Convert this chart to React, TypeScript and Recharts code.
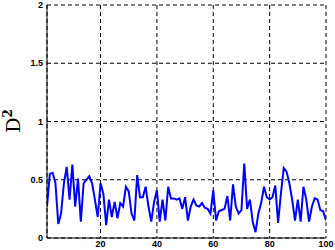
import { LineChart, Line, XAxis, YAxis, CartesianGrid } from "recharts"

// D^2 per step
const D2_VALUES = [
  0.27, 0.55, 0.56, 0.47, 0.12, 0.21, 0.47, 0.61, 0.33, 0.63,
  0.27, 0.51, 0.14, 0.47, 0.5, 0.53, 0.47, 0.33, 0.18, 0.47,
  0.38, 0.11, 0.33, 0.18, 0.31, 0.17, 0.3, 0.27, 0.44, 0.4,
  0.21, 0.15, 0.54, 0.35, 0.35, 0.44, 0.27, 0.14, 0.31, 0.41,
  0.14, 0.33, 0.15, 0.44, 0.34, 0.34, 0.33, 0.34, 0.25, 0.35,
  0.15, 0.27, 0.33, 0.28, 0.27, 0.3, 0.26, 0.25, 0.21, 0.41,
  0.15, 0.23, 0.24, 0.25, 0.36, 0.15, 0.46, 0.27, 0.21, 0.24,
  0.64, 0.25, 0.33, 0.14, 0.05, 0.21, 0.3, 0.44, 0.35, 0.33,
  0.35, 0.45, 0.13, 0.38, 0.6, 0.57, 0.47, 0.33, 0.15, 0.33,
  0.14, 0.44, 0.33, 0.14, 0.27, 0.34, 0.33, 0.24, 0.23, 0.15,
]

const X_TICKS = [20, 40, 60, 80, 100]
const Y_TICKS = [0, 0.5, 1, 1.5, 2]

const tickStyle = {
  fontSize: 9,
  fontWeight: 700,
  fontFamily: "Liberation Sans, Arial, sans-serif",
  fill: "#000",
}

function D2Label() {
  return (
    <text
      x={20}
      y={121}
      transform="rotate(-90, 20, 121)"
      textAnchor="middle"
      fontFamily="DejaVu Serif, serif"
      fontSize={19}
      fill="#000"
    >
      D
      <tspan fontSize={12} fontWeight={700} dy={-8}>2</tspan>
    </text>
  )
}

export default function App() {
  const data = D2_VALUES.map((v, i) => ({ step: i + 1, d2: v }))

  return (
    <div style={{ position: "absolute", left: 0, top: 0, background: "#fff" }}>
      <LineChart
        width={335}
        height={250}
        data={data}
        margin={{ top: 5, right: 9, bottom: 0, left: 0 }}
      >
        <CartesianGrid stroke="#000" strokeDasharray="4 3" />
        <XAxis
          dataKey="step"
          type="number"
          domain={[1, 100]}
          ticks={X_TICKS}
          height={12}
          tickLine={false}
          tickSize={0}
          tickMargin={3}
          axisLine={{ stroke: "#000" }}
          tick={tickStyle}
          allowDataOverflow
        />
        <XAxis
          xAxisId="top"
          orientation="top"
          dataKey="step"
          type="number"
          domain={[1, 100]}
          height={0}
          tick={false}
          tickLine={false}
          axisLine={{ stroke: "#000" }}
        />
        <YAxis
          domain={[0, 2]}
          ticks={Y_TICKS}
          width={47}
          tickLine={false}
          tickSize={0}
          tickMargin={4}
          axisLine={{ stroke: "#000" }}
          tick={tickStyle}
          interval={0}
        />
        <YAxis
          yAxisId="right"
          orientation="right"
          domain={[0, 2]}
          width={0}
          tick={false}
          tickLine={false}
          axisLine={{ stroke: "#000" }}
        />
        <Line
          type="linear"
          dataKey="d2"
          stroke="#0000ff"
          strokeWidth={2}
          dot={false}
          isAnimationActive={false}
        />
      </LineChart>
      <svg
        width={40}
        height={250}
        style={{ position: "absolute", left: 0, top: 0, pointerEvents: "none" }}
      >
        <D2Label />
      </svg>
    </div>
  )
}
